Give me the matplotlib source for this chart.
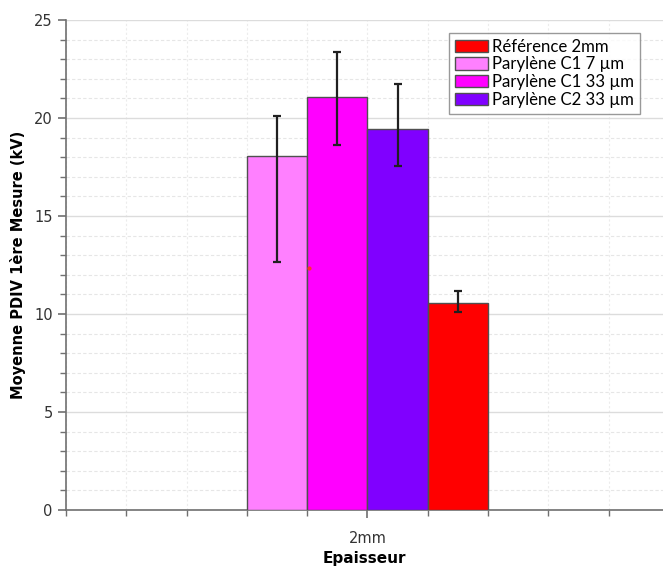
import numpy as np
import matplotlib
matplotlib.use("Agg")
import matplotlib.pyplot as plt
from matplotlib.ticker import MultipleLocator, FixedLocator

# Data
series = ["Parylène C1 7 µm", "Parylène C1 33 µm", "Parylène C2 33 µm", "Référence 2mm"]
colors = ["#ff80ff", "#ff00ff", "#8000ff", "#ff0000"]
means = [18.08, 21.09, 19.42, 10.58]
err_low = [12.65, 18.62, 17.54, 10.09]
err_high = [20.09, 23.35, 21.73, 11.17]
legend_order = [3, 0, 1, 2]
category = "2mm"
stray_x = [-0.97]           # small red dot visible in the picture
stray_y = [12.35]

fig = plt.figure(figsize=(6.63, 5.69), dpi=100)
ax = fig.add_axes([0.0995, 0.1037, 0.9005, 0.8612])

# bars side by side around the category position 0
n = len(series)
offsets = np.arange(n) - (n - 1) / 2
lower = np.array(means) - np.array(err_low)
upper = np.array(err_high) - np.array(means)
handles = []
for i in range(n):
    b = ax.bar(offsets[i], means[i], width=1.0, color=colors[i], edgecolor="#505050",
               linewidth=1.0, label=series[i], zorder=3)
    handles.append(b)
ax.errorbar(offsets, means, yerr=[lower, upper], fmt="none", ecolor="#202020",
            elinewidth=1.6, capsize=3, capthick=1.6, zorder=4)
ax.plot(stray_x, stray_y, "o", color="#ff3030", markersize=2, zorder=5)

ax.set_xlim(-5, 4.9)
ax.set_ylim(0, 25)
ax.xaxis.set_major_locator(FixedLocator([0]))
ax.set_xticklabels([category])
ax.xaxis.set_minor_locator(MultipleLocator(1))
ax.yaxis.set_major_locator(MultipleLocator(5))
ax.yaxis.set_minor_locator(MultipleLocator(1))

ax.grid(which="major", axis="y", color="#dcdcdc", linewidth=1.0, zorder=0)
ax.grid(which="minor", axis="y", color="#e6e6e6", linewidth=0.8, linestyle=(0, (3, 2)), zorder=0)
ax.grid(which="both", axis="x", color="#ececec", linewidth=0.8, linestyle=(0, (2, 2)), zorder=0)

for s in ["top", "right"]:
    ax.spines[s].set_visible(False)
for s in ["left", "bottom"]:
    ax.spines[s].set_color("#707070")
    ax.spines[s].set_linewidth(1.2)

ax.tick_params(axis="both", which="major", color="#707070", length=6, width=1.2,
               labelsize=10.5, labelcolor="#333333")
ax.tick_params(axis="both", which="minor", color="#707070", length=4, width=1.0)
ax.tick_params(axis="x", which="major", pad=9)

ax.set_xlabel("Epaisseur", fontsize=11, fontweight="bold", labelpad=4)
ax.set_ylabel("Moyenne PDIV 1ère Mesure (kV)", fontsize=10.5, fontweight="bold", labelpad=6)

leg = ax.legend([handles[i] for i in legend_order], [series[i] for i in legend_order],
                loc="upper left", bbox_to_anchor=(0.6415, 0.974), borderaxespad=0,
                fancybox=False, frameon=True, edgecolor="#808080", borderpad=0.35,
                labelspacing=0.1, handlelength=2.0, handleheight=0.75, handletextpad=0.2,
                prop={"family": ["Lato", "DejaVu Sans"], "size": 12.1})
leg.get_frame().set_linewidth(1.0)

fig.savefig("out.png", dpi=100)
